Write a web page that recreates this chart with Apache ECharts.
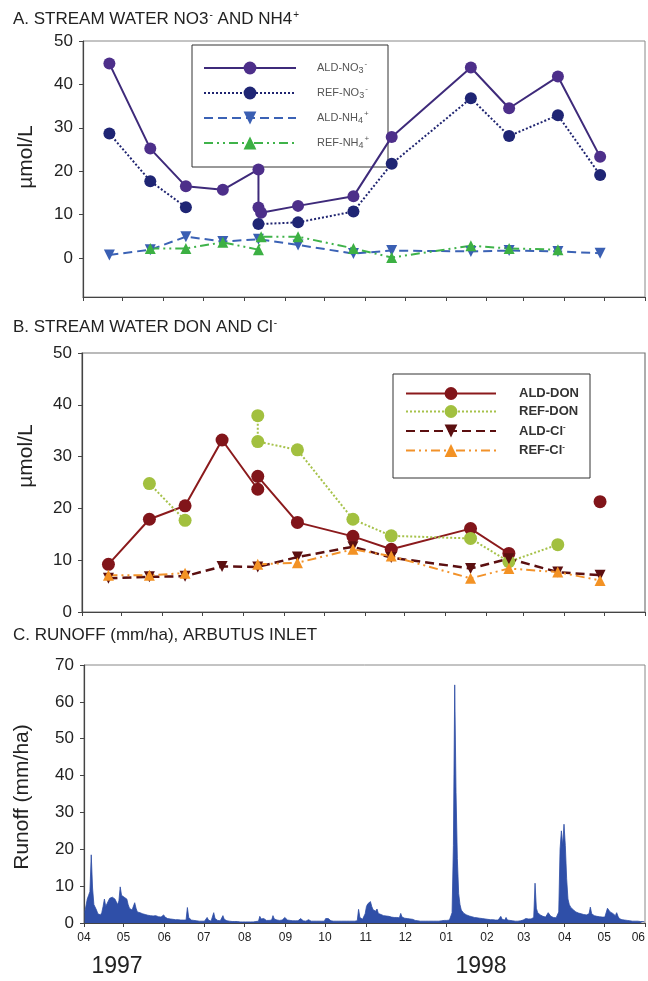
<!DOCTYPE html>
<html>
<head>
<meta charset="utf-8">
<script src="https://cdn.jsdelivr.net/npm/echarts@6/dist/echarts.min.js"></script>
<style>
  html, body { margin: 0; padding: 0; background: #fff; }
  #chart { width: 648px; height: 981px; }
</style>
</head>
<body>
<div id="chart"></div>
<script>
// ---------- Panel A: stream water nitrate and ammonium (µmol/L) ----------
const aldNo3Dates = ['1997-04-21','1997-05-22','1997-06-18','1997-07-16','1997-08-12','1997-08-12','1997-08-14','1997-09-11','1997-10-23','1997-11-21','1998-01-20','1998-02-18','1998-03-27','1998-04-28'];
const aldNo3 = [44.8, 25.2, 16.5, 15.7, 20.4, 11.6, 10.4, 12.0, 14.2, 27.9, 43.9, 34.5, 41.8, 23.3];

const refNo3Dates = ['1997-04-21','1997-05-22','1997-06-18','1997-07-16','1997-08-12','1997-09-11','1997-10-23','1997-11-21','1998-01-20','1998-02-18','1998-03-27','1998-04-28'];
const refNo3 = [28.7, 17.7, 11.7, null, 7.8, 8.2, 10.7, 21.7, 36.8, 28.1, 32.9, 19.1];

const aldNh4Dates = ['1997-04-21','1997-05-22','1997-06-18','1997-07-16','1997-08-12','1997-09-11','1997-10-23','1997-11-21','1998-01-20','1998-02-18','1998-03-27','1998-04-28'];
const aldNh4 = [0.7, 1.9, 4.9, 3.8, 4.3, 3.0, 1.0, 1.7, 1.5, 1.7, 1.5, 1.1];

const refNh4Dates = ['1997-05-22','1997-06-18','1997-07-16','1997-08-12','1997-08-14','1997-09-11','1997-10-23','1997-11-21','1998-01-20','1998-02-18','1998-03-27'];
const refNh4 = [2.2, 2.2, 3.6, 1.9, 4.9, 4.9, 2.2, 0.1, 2.8, 2.2, 1.9];

// ---------- Panel B: stream water DON and chloride (µmol/L) ----------
const aldDonDates = ['1997-04-21','1997-05-22','1997-06-18','1997-07-16','1997-08-12','1997-08-12','1997-09-11','1997-10-23','1997-11-21','1998-01-20','1998-02-18','1998-03-27','1998-04-28'];
const aldDon = [9.2, 17.9, 20.5, 33.2, 23.7, 26.2, 17.3, 14.6, 12.1, 16.1, 11.3, null, 21.3];

const refDonDates = ['1997-05-22','1997-06-18','1997-07-16','1997-08-12','1997-08-12','1997-09-11','1997-10-23','1997-11-21','1998-01-20','1998-02-18','1998-03-27'];
const refDon = [24.8, 17.7, null, 37.9, 32.9, 31.3, 17.9, 14.7, 14.2, 9.7, 13.0];

const clDates = ['1997-04-21','1997-05-22','1997-06-18','1997-07-16','1997-08-12','1997-09-11','1997-10-23','1997-11-21','1998-01-20','1998-02-18','1998-03-27','1998-04-28'];
const aldCl = [6.5, 6.8, 6.9, 8.8, 8.7, 10.6, 12.6, 10.5, 8.4, 10.3, 7.7, 7.1];
const refCl = [7.1, 7.1, 7.5, null, 9.2, 9.5, 12.1, 10.8, 6.5, 8.4, 7.7, 6.1];

// ---------- Panel C: daily runoff at Arbutus inlet (mm/ha), one value per day ----------
const runoffApr97 = [2.8,3,6.5,7.5,8.5,18.5,9.5,5,4.5,3.5, 2.5,2.2,2.2,2.8,4.5,6.5,4.5,5,6,6.7, 6.8,7,6.8,6.5,6,5,6,9.8,7.5,7];
const runoffMay97 = [7,7,6.5,5,4,3.5,3.5,4,5.5,4, 3,3,2.8,2.6,2.5,2.5,2.3,2.2,2.1,2, 2,2,1.9,1.9,2,1.8,1.7,1.6,1.6,1.5, 2.2];
const runoffJun97 = [1.6,1.3,1.2,1.1,1.1,1,1,1,0.9,0.9, 0.9,0.8,0.8,0.8,0.8,0.7,0.8,4.2,1.5,1, 0.8,0.7,0.7,0.6,0.6,0.6,0.5,0.5,0.5,0.5];
const runoffJul97 = [0.5,0.6,1.5,0.8,0.6,0.5,0.5,2.8,1.2,0.8, 0.7,0.6,0.6,0.7,2,1,0.7,0.6,0.5,0.5, 0.5,0.4,0.4,0.4,0.4,0.4,0.3,0.3,0.3,0.3, 0.3];
const runoffAug97 = [0.3,0.3,0.3,0.3,0.3,0.3,0.3,0.4,0.4,0.4, 0.5,1.8,1.1,0.8,1.2,0.8,0.7,0.7,0.7,0.7, 0.8,2.0,1.1,0.9,0.8,0.8,0.7,0.7,0.8,0.9, 1.5];
const runoffSep97 = [1,0.8,0.7,0.7,0.6,0.6,0.8,0.6,0.6,0.6, 0.6,1.2,0.7,0.6,0.6,0.5,0.5,0.9,0.6,0.5, 0.5,0.5,0.5,0.5,0.5,0.5,0.5,0.5,0.5,0.5];
const runoffOct97 = [1.2,1,1.2,0.8,0.6,0.5,0.5,0.5,0.5,0.5, 0.5,0.5,0.5,0.5,0.5,0.5,0.5,0.5,0.5,0.5, 0.5,0.5,0.5,0.5,0.6,3.7,1.5,1,1,1.2, 2.5];
const runoffNov97 = [4.5,5.2,4.8,5.8,4.5,3.6,3.5,3.2,3.8,2.6, 2.5,2.3,2.2,2,2,1.9,1.8,1.8,1.7,1.6, 1.6,1.5,1.5,1.5,1.5,1.4,2.6,1.6,1.4,1.3];
const runoffDec97 = [1.3,1.2,1.2,1.1,1,1,0.9,0.7,0.6,0.6, 0.5,0.5,0.5,0.5,0.5,0.5,0.5,0.5,0.5,0.5, 0.5,0.5,0.5,0.5,0.5,0.5,0.5,0.6,0.6,0.7, 0.7];
const runoffJan98 = [0.7,0.8,0.8,1,2.8,21,64.6,35.5,17.5,8, 5,3.5,3,2.6,2.4,2.2,2,1.9,1.8,1.7, 1.6,1.5,1.5,1.4,1.3,1.3,1.2,1.2,1.1,1.1, 1];
const runoffFeb98 = [1,1,0.9,0.9,0.9,0.9,0.8,0.8,0.8,0.8, 1.8,1,0.8,0.8,1.5,0.8,0.7,0.7,0.6,0.6, 0.5,0.5,0.5,0.5,0.5,0.6,0.6,0.8];
const runoffMar98 = [1.1,1.2,1.2,1.1,1.2,1.1,1.1,1.5,10.8,4, 2.8,2.4,2.2,2,1.8,1.7,1.6,2,2.8,2.3, 1.8,1.6,1.5,1.4,1.4,1.5,3,20,25,21, 26.8];
const runoffApr98 = [21,12,6.5,5,4.3,4,3.6,3.3,3,2.8, 2.7,2.6,2.5,2.4,2.3,2.2,2.2,2.1,2.5,4.3, 2.5,2.1,2,1.9,1.8,1.8,1.7,1.7,1.6,1.6];
const runoffMay98 = [1.6,2,4,3.5,3,2.8,2.6,2.2,2,2.8, 1.8,1.2,1,0.9,0.8,0.8,0.7,0.7,0.6,0.6, 0.6,0.5,0.5,0.5,0.5,0.5,0.4,0.4,0.4,0.4, 0.4];

// Axis labels
const monthTickLabels = ['04','05','06','07','08','09','10','11','12','01','02','03','04','05','06'];
const yearLabels = ['1997', '1998'];
const startDate = '1997-04-01';
const endDate = '1998-06-01';

// ---------- helpers ----------
const DAY = 86400000;
const t0 = Date.parse(startDate + 'T00:00:00Z');
const dayOf = d => (Date.parse(d + 'T00:00:00Z') - t0) / DAY;
const xMax = dayOf(endDate);

// first day of each month along the axis
const monthStarts = [];
{
  let y = 1997, m = 3;
  for (let k = 0; k < monthTickLabels.length; k++) {
    monthStarts.push((Date.UTC(y, m, 1) - t0) / DAY);
    m++; if (m > 11) { m = 0; y++; }
  }
}

const pairs = (dates, vals) => dates.map((d, i) => [dayOf(d), vals[i] === null ? null : vals[i]]);

const runoff = [].concat(runoffApr97, runoffMay97, runoffJun97, runoffJul97, runoffAug97, runoffSep97,
  runoffOct97, runoffNov97, runoffDec97, runoffJan98, runoffFeb98, runoffMar98, runoffApr98, runoffMay98);
const runoffData = runoff.map((v, i) => [i + 0.5, v]);

const FONT = '"Liberation Sans", Arial, Helvetica, sans-serif';

const titleRich = {
  t: { fontSize: 17, color: '#222', fontFamily: FONT, fontWeight: 'normal' },
  sp: { fontSize: 10, color: '#222', fontFamily: FONT, fontWeight: 'normal', verticalAlign: 'top', padding: [0, 0, 8, 1] }
};
const legendRichA = {
  n: { fontSize: 11, color: '#555', fontFamily: FONT },
  sb: { fontSize: 9, color: '#555', fontFamily: FONT, padding: [5, 0, 0, 0] },
  sp: { fontSize: 8, color: '#555', fontFamily: FONT, padding: [0, 0, 8, 1] }
};
const legendRichB = {
  n: { fontSize: 13, color: '#333', fontFamily: FONT, fontWeight: 'bold' },
  sp: { fontSize: 8, color: '#333', fontFamily: FONT, fontWeight: 'bold', padding: [0, 0, 8, 0] }
};

const xAxisBase = (gridIndex, showLabels) => ({
  type: 'value', gridIndex, min: 0, max: xMax,
  axisLine: { show: true, onZero: false, lineStyle: { color: '#444', width: 1.2 } },
  axisTick: { show: true, customValues: monthStarts, length: 4, lineStyle: { color: '#444' } },
  axisLabel: showLabels ? {
    show: true, customValues: monthStarts, margin: 9, alignMaxLabel: 'right',
    fontSize: 12, color: '#222', fontFamily: FONT,
    formatter: v => monthTickLabels[monthStarts.indexOf(Math.round(v))] || ''
  } : { show: false },
  splitLine: { show: false }
});

const yAxisBase = (gridIndex, min, max, values) => ({
  type: 'value', gridIndex, min, max,
  axisLine: { show: true, lineStyle: { color: '#444', width: 1.2 } },
  axisTick: { show: true, customValues: values, length: 4, lineStyle: { color: '#444' } },
  axisLabel: { show: true, customValues: values, margin: 10, fontSize: 17, color: '#222', fontFamily: FONT },
  splitLine: { show: false }
});

const lineSeries = (name, data, xi, color, type, width, symbol, size, symColor) => ({
  name, type: 'line', xAxisIndex: xi, yAxisIndex: xi, data,
  connectNulls: false,
  symbol, symbolSize: size, showSymbol: true,
  lineStyle: { color, type, width },
  itemStyle: { color: symColor || color, borderColor: symColor || color, borderWidth: 0 },
  emphasis: { disabled: true },
  animation: false
});

const gridBase = { containLabel: false, outerBoundsMode: 'none', show: true };

const option = {
  animation: false,
  backgroundColor: '#fff',
  title: [
    { text: '{t|A. STREAM WATER NO3}{sp|-}{t| AND NH4}{sp|+}', left: 8, top: 5, textStyle: { fontWeight: 'normal', rich: titleRich } },
    { text: '{t|B. STREAM WATER DON AND Cl}{sp|-}', left: 8, top: 313, textStyle: { fontWeight: 'normal', rich: titleRich } },
    { text: '{t|C. RUNOFF (mm/ha), ARBUTUS INLET}', left: 8, top: 622, textStyle: { fontWeight: 'normal', rich: titleRich } }
  ],
  grid: [
    Object.assign({ left: 83, right: 3, top: 41, height: 256, borderColor: '#888', borderWidth: 1 }, gridBase),
    Object.assign({ left: 82, right: 3, top: 353, height: 259, borderColor: '#777', borderWidth: 1.2 }, gridBase),
    Object.assign({ left: 84, right: 3, top: 665, height: 258, borderColor: '#888', borderWidth: 1 }, gridBase)
  ],
  xAxis: [xAxisBase(0, false), xAxisBase(1, false), xAxisBase(2, true)],
  yAxis: [
    yAxisBase(0, -9, 50, [0, 10, 20, 30, 40, 50]),
    yAxisBase(1, 0, 50, [0, 10, 20, 30, 40, 50]),
    yAxisBase(2, 0, 70, [0, 10, 20, 30, 40, 50, 60, 70])
  ],
  legend: [
    {
      data: ['ALD-NO3', 'REF-NO3', 'ALD-NH4', 'REF-NH4'],
      orient: 'vertical', left: 203, top: 60, padding: 0,
      itemWidth: 92, itemHeight: 16, itemGap: 10,
      selectedMode: false,
      formatter: n => ({
        'ALD-NO3': '{n|ALD-NO}{sb|3}{sp|-}',
        'REF-NO3': '{n|REF-NO}{sb|3}{sp|-}',
        'ALD-NH4': '{n|ALD-NH}{sb|4}{sp|+}',
        'REF-NH4': '{n|REF-NH}{sb|4}{sp|+}'
      })[n],
      textStyle: { padding: [0, 0, 0, 16], rich: legendRichA }
    },
    {
      data: ['ALD-DON', 'REF-DON', 'ALD-Cl', 'REF-Cl'],
      orient: 'vertical', left: 405, top: 387, padding: 0,
      itemWidth: 90, itemHeight: 16, itemGap: 5,
      selectedMode: false,
      formatter: n => ({
        'ALD-DON': '{n|ALD-DON}',
        'REF-DON': '{n|REF-DON}',
        'ALD-Cl': '{n|ALD-Cl}{sp|-}',
        'REF-Cl': '{n|REF-Cl}{sp|-}'
      })[n],
      textStyle: { padding: [0, 0, 0, 18], rich: legendRichB }
    }
  ],
  graphic: [
    // legend frames
    { type: 'rect', shape: { x: 192, y: 45, width: 196, height: 122 }, style: { fill: 'none', stroke: '#333', lineWidth: 1 }, z: 1 },
    { type: 'rect', shape: { x: 393, y: 374, width: 197, height: 104 }, style: { fill: 'none', stroke: '#333', lineWidth: 1 }, z: 1 },
    // vertical axis names
    { type: 'text', x: 26, y: 157, rotation: Math.PI / 2, style: { text: 'µmol/L', font: '21px ' + FONT, fill: '#222', align: 'center', verticalAlign: 'middle' } },
    { type: 'text', x: 26, y: 456, rotation: Math.PI / 2, style: { text: 'µmol/L', font: '21px ' + FONT, fill: '#222', align: 'center', verticalAlign: 'middle' } },
    { type: 'text', x: 22, y: 797, rotation: Math.PI / 2, style: { text: 'Runoff (mm/ha)', font: '21px ' + FONT, fill: '#222', align: 'center', verticalAlign: 'middle' } },
    // years under the runoff axis
    { type: 'text', x: 117, y: 967, style: { text: yearLabels[0], font: '23px ' + FONT, fill: '#222', align: 'center', verticalAlign: 'middle' } },
    { type: 'text', x: 481, y: 967, style: { text: yearLabels[1], font: '23px ' + FONT, fill: '#222', align: 'center', verticalAlign: 'middle' } }
  ],
  series: [
    lineSeries('ALD-NO3', pairs(aldNo3Dates, aldNo3), 0, '#3e2a7a', 'solid', 2, 'circle', 12, '#4d2f8a'),
    lineSeries('REF-NO3', pairs(refNo3Dates, refNo3), 0, '#1f2470', 'dotted', 2, 'circle', 12, '#1f2574'),
    Object.assign(lineSeries('ALD-NH4', pairs(aldNh4Dates, aldNh4), 0, '#3b62b5', [9, 5], 2, 'triangle', 11, '#3a5fb3'), { symbolRotate: 180 }),
    lineSeries('REF-NH4', pairs(refNh4Dates, refNh4), 0, '#3fb34a', [9, 4, 2, 4, 2, 4], 2, 'triangle', 11, '#3cb043'),
    lineSeries('ALD-DON', pairs(aldDonDates, aldDon), 1, '#8b1a1c', 'solid', 2, 'circle', 13, '#81151a'),
    lineSeries('REF-DON', pairs(refDonDates, refDon), 1, '#a6c24a', 'dotted', 2, 'circle', 13, '#a2c03f'),
    Object.assign(lineSeries('ALD-Cl', pairs(clDates, aldCl), 1, '#5b0f10', [9, 5], 2.5, 'triangle', 11, '#5b0f10'), { symbolRotate: 180 }),
    lineSeries('REF-Cl', pairs(clDates, refCl), 1, '#f2922a', [9, 4, 2, 4, 2, 4], 2, 'triangle', 11, '#f39224'),
    {
      name: 'Runoff', type: 'line', xAxisIndex: 2, yAxisIndex: 2, data: runoffData,
      symbol: 'none', lineStyle: { color: '#2d4ca5', width: 0.8 },
      areaStyle: { color: '#2f4fa8', opacity: 1 },
      emphasis: { disabled: true }, animation: false
    }
  ]
};

const chart = echarts.init(document.getElementById('chart'), null, { renderer: 'canvas' });
chart.setOption(option);
</script>
</body>
</html>
